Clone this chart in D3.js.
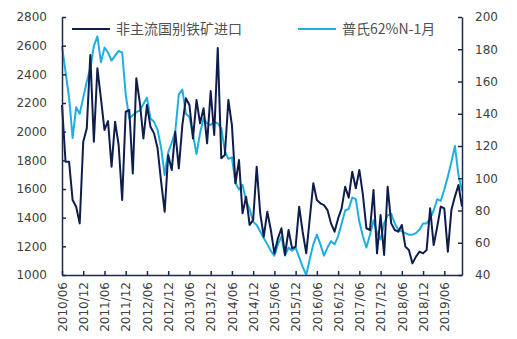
<!DOCTYPE html>
<html>
<head>
<meta charset="utf-8">
<script src="https://cdn.jsdelivr.net/npm/d3@7"></script>
<style>
  html, body { margin: 0; padding: 0; background: #ffffff; }
  svg { display: block; }
</style>
</head>
<body>
<svg id="chart" width="517" height="339"></svg>
<script>
// ---- data ----
const startYear = 2010, startMonth = 6, monthCount = 114; // 2010/06 .. 2019/11
const tickLabels = ["2010/06","2010/12","2011/06","2011/12","2012/06","2012/12","2013/06","2013/12",
  "2014/06","2014/12","2015/06","2015/12","2016/06","2016/12","2017/06","2017/12","2018/06","2018/12","2019/06"];
const leftTicks = [1000,1200,1400,1600,1800,2000,2200,2400,2600,2800];
const rightTicks = [40,60,80,100,120,140,160,180,200];
const seriesNames = ["非主流国别铁矿进口", "普氏62%N-1月"];

// 非主流国别铁矿进口 (left axis)
const imports = [2186,1790,1790,1523,1476,1360,1930,2023,2535,1930,2442,2233,2012,2074,1756,2070,1907,1523,2139,2151,
  1709,2372,2200,1953,2186,2034,1988,1884,1651,1442,1837,1732,2000,1744,2046,2233,2186,1953,2221,2058,
  2163,1919,2284,1977,2584,1814,1837,2221,2046,1640,1802,1430,1546,1349,1384,1756,1430,1267,1442,1314,
  1151,1256,1326,1140,1314,1186,1198,1477,1300,1151,1395,1640,1523,1500,1488,1453,1360,1302,1395,1465,
  1616,1540,1721,1605,1733,1560,1326,1314,1593,1151,1418,1140,1616,1360,1314,1302,1349,1198,1174,1081,
  1128,1163,1151,1174,1465,1209,1337,1477,1465,1163,1453,1547,1628,1477];

// 普氏62%N-1月 (right axis)
const platts = [182,166,150,125,144,140,150,160,168,182,188,172,181,178,173,176,179,178,152,137,
  139,141,142,146,150,137,135,130,119,102,116,122,129,152,155,140,138,127,115,128,
  137,134,133,135,134,131,117,112,113,97,93,96,86,81,73,71,67,63,59,55,
  52,59,64,52,57,55,57,51,45,40,50,59,65,59,52,57,61,59,64,72,
  80,81,88,87,73,64,57,65,74,66,62,72,77,78,72,68,67,66,65,65,
  66,68,72,72,75,80,87,86,93,101,110,120,102,92];

const months = [];
for (let i = 0; i < monthCount; i++) {
  const m = startMonth - 1 + i;
  const y = startYear + Math.floor(m / 12);
  months.push(y + "/" + String(m % 12 + 1).padStart(2, "0"));
}

// ---- layout ----
const X0 = 62, X1 = 462, Y0 = 17, Y1 = 275;
const axisColor = "#1c2a4f", textColor = "#404040";
const darkColor = "#0f1d4c", lightColor = "#1faee2";

const svg = d3.select("#chart");

const x = d3.scalePoint().domain(months).range([X0, X1]);
const yL = d3.scaleLinear().domain([1000, 2800]).range([Y1, Y0]);
const yR = d3.scaleLinear().domain([40, 200]).range([Y1, Y0]);

// lines
const lineL = d3.line().x((d, i) => x(months[i])).y(d => yL(d));
const lineR = d3.line().x((d, i) => x(months[i])).y(d => yR(d));

svg.append("path").datum(platts)
  .attr("d", lineR).attr("fill", "none")
  .attr("stroke", lightColor).attr("stroke-width", 2).attr("stroke-linejoin", "round");
svg.append("path").datum(imports)
  .attr("d", lineL).attr("fill", "none")
  .attr("stroke", darkColor).attr("stroke-width", 2).attr("stroke-linejoin", "round");

// axes
const fontFam = "'DejaVu Sans', sans-serif";
function styleAxis(g) {
  g.select(".domain").attr("stroke", axisColor).attr("stroke-width", 1.5);
  g.selectAll(".tick line").attr("stroke", axisColor).attr("stroke-width", 1.5);
  g.selectAll(".tick text").attr("fill", textColor).style("font-family", fontFam).style("font-size", "12px");
}

svg.append("g").attr("transform", `translate(${X0},0)`)
  .call(d3.axisLeft(yL).tickValues(leftTicks).tickFormat(d3.format("d")).tickSize(-4).tickSizeOuter(0).tickPadding(15))
  .call(styleAxis);

svg.append("g").attr("transform", `translate(${X1},0)`)
  .call(d3.axisRight(yR).tickValues(rightTicks).tickFormat(d3.format("d")).tickSize(-4).tickSizeOuter(0).tickPadding(13))
  .call(styleAxis);

const tickMonths = tickLabels;
const xAxis = svg.append("g").attr("transform", `translate(0,${Y1})`)
  .call(d3.axisBottom(x).tickValues(tickMonths).tickSize(-4).tickSizeOuter(0))
  .call(styleAxis);
xAxis.selectAll(".tick text")
  .attr("transform", "rotate(-90)")
  .attr("text-anchor", "end")
  .attr("x", -7).attr("y", 0).attr("dy", "0.35em");

// legend
const legend = [
  { name: seriesNames[0], color: darkColor, x: 72 },
  { name: seriesNames[1], color: lightColor, x: 298 }
];
const lg = svg.append("g");
legend.forEach(l => {
  lg.append("line").attr("x1", l.x).attr("x2", l.x + 38).attr("y1", 29).attr("y2", 29)
    .attr("stroke", l.color).attr("stroke-width", 2);
  lg.append("text").attr("x", l.x + 44).attr("y", 34)
    .attr("fill", "#505050")
    .style("font-family", "'Noto Sans CJK SC', sans-serif").style("font-size", "14px")
    .text(l.name);
});
</script>
</body>
</html>
